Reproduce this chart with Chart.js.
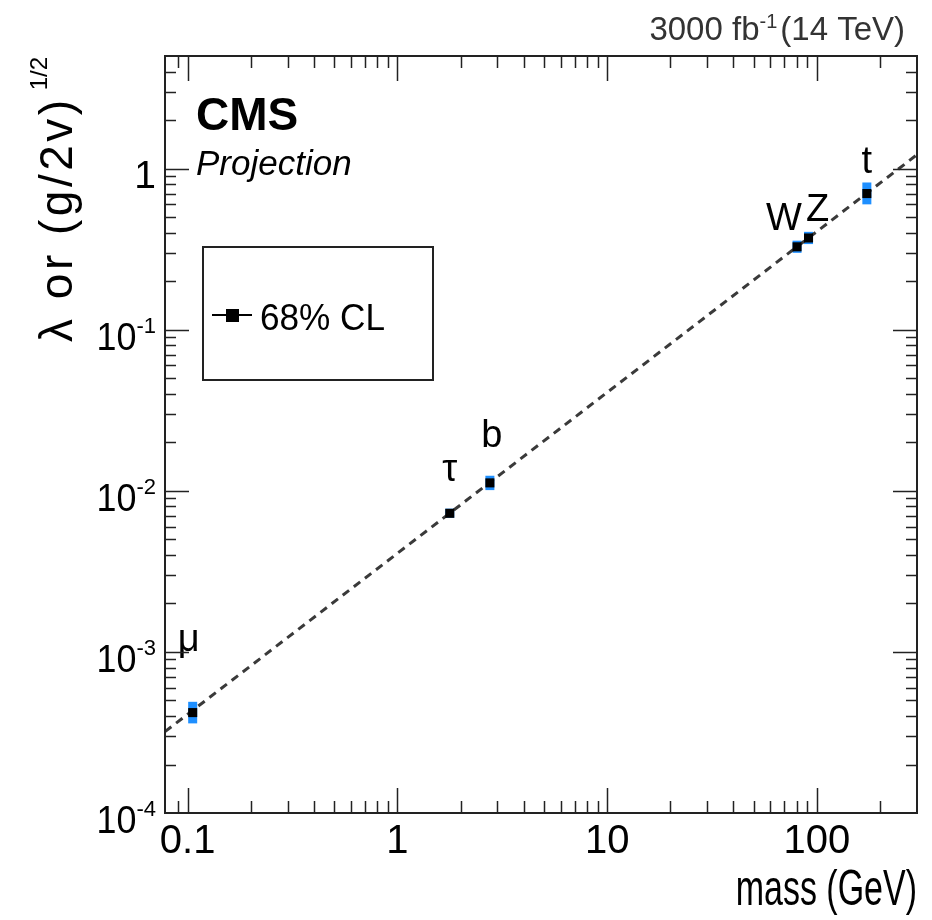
<!DOCTYPE html>
<html><head><meta charset="utf-8">
<script src="https://cdn.jsdelivr.net/npm/chart.js@4.4.1/dist/chart.umd.min.js"></script>
<style>html,body{margin:0;padding:0;background:#fff;} canvas{display:block;}</style>
</head><body>
<canvas id="c" width="932" height="920"></canvas>
<script>
// ---- data ----
const particles = ['μ', 'τ', 'b', 'W', 'Z', 't'];
const massGeV = [0.1057, 1.777, 2.76, 80.4, 91.2, 173.0];
const coupling = [4.2e-4, 7.25e-3, 0.0112, 0.327, 0.371, 0.70];
const errLow = [3.6e-4, 6.8e-3, 0.0101, 0.300, 0.340, 0.60];
const errHigh = [4.9e-4, 7.75e-3, 0.0124, 0.357, 0.405, 0.82];
const smLineMass = [0.078, 300];
const smLineCoupling = [3.2e-4, 1.22];
const xMajorTicks = [0.1, 1, 10, 100];
const xTickLabels = ['0.1', '1', '10', '100'];
const yMajorTicks = [1e-4, 1e-3, 1e-2, 1e-1, 1];
const yTickBase = ['10', '10', '10', '10', '1'];
const yTickExp = ['-4', '-3', '-2', '-1', ''];
const xMinorDecades = [0.01, 0.1, 1, 10, 100];
const yMinorDecades = [1e-4, 1e-3, 1e-2, 1e-1, 1];
const minorSteps = [2, 3, 4, 5, 6, 7, 8, 9];
const legendLabel = '68% CL';
const lumiText = ['3000 fb', '-1', '(14 TeV)'];
const xTitle = 'mass (GeV)';
const yTitle = ['λ or (g/2v)', '1/2'];

const FONT = '"Liberation Sans", Arial, sans-serif';
const INK = '#222';

function txt(ctx, s, x, y, font, align, sx) {
  ctx.save();
  ctx.font = font;
  ctx.textAlign = align || 'left';
  ctx.textBaseline = 'alphabetic';
  ctx.translate(x, y);
  ctx.scale(sx || 1, 1);
  ctx.fillText(s, 0, 0);
  ctx.restore();
}

const errorBars = {
  id: 'errorBars',
  beforeDatasetsDraw(chart) {
    const ctx = chart.ctx, xs = chart.scales.x, ys = chart.scales.y;
    ctx.save();
    ctx.fillStyle = '#1e8fff';
    for (let i = 0; i < massGeV.length; i++) {
      const px = xs.getPixelForValue(massGeV[i]);
      const yt = ys.getPixelForValue(errHigh[i]);
      const yb = ys.getPixelForValue(errLow[i]);
      ctx.fillRect(px - 4.5, yt, 9, yb - yt);
    }
    ctx.restore();
  },
  afterDatasetsDraw(chart) {
    const ctx = chart.ctx;
    const meta = chart.getDatasetMeta(0);
    const off = [[-4, -62], [0, -32], [2, -36], [-13, -17], [9, -17], [0, -21]];
    ctx.save();
    ctx.fillStyle = '#000';
    meta.data.forEach((pt, i) => {
      txt(ctx, particles[i], pt.x + off[i][0], pt.y + off[i][1], '38px ' + FONT, 'center');
    });
    ctx.restore();
  }
};

const frame = {
  id: 'frame',
  afterDraw(chart) {
    const ctx = chart.ctx, a = chart.chartArea, xs = chart.scales.x, ys = chart.scales.y;
    ctx.save();
    ctx.strokeStyle = INK;
    ctx.lineWidth = 2;
    ctx.strokeRect(a.left, a.top, a.right - a.left, a.bottom - a.top);
    ctx.lineWidth = 1.5;
    const xTick = (v, len) => {
      const p = Math.round(xs.getPixelForValue(v)) + 0.5;
      if (p < a.left + 3 || p > a.right - 3) return;
      ctx.beginPath();
      ctx.moveTo(p, a.bottom); ctx.lineTo(p, a.bottom - len);
      ctx.moveTo(p, a.top); ctx.lineTo(p, a.top + len);
      ctx.stroke();
    };
    const yTick = (v, len) => {
      const p = Math.round(ys.getPixelForValue(v)) + 0.5;
      if (p < a.top + 3 || p > a.bottom - 3) return;
      ctx.beginPath();
      ctx.moveTo(a.left, p); ctx.lineTo(a.left + len, p);
      ctx.moveTo(a.right, p); ctx.lineTo(a.right - len, p);
      ctx.stroke();
    };
    xMajorTicks.forEach(v => xTick(v, 25));
    xMinorDecades.forEach(d => minorSteps.forEach(m => xTick(d * m, 12)));
    yMajorTicks.forEach(v => yTick(v, 24));
    yMinorDecades.forEach(d => minorSteps.forEach(m => yTick(d * m, 11)));

    // tick labels
    ctx.fillStyle = '#000';
    xMajorTicks.forEach((v, i) => {
      txt(ctx, xTickLabels[i], xs.getPixelForValue(v), 853, '40px ' + FONT, 'center');
    });
    yMajorTicks.forEach((v, i) => {
      const p = ys.getPixelForValue(v);
      const right = 156;
      if (yTickExp[i]) {
        ctx.font = '22px ' + FONT;
        const we = ctx.measureText(yTickExp[i]).width;
        txt(ctx, yTickExp[i], right, p + 3, '22px ' + FONT, 'right');
        txt(ctx, yTickBase[i], right - we, p + 20, '39px ' + FONT, 'right', 0.92);
      } else {
        txt(ctx, yTickBase[i], right, p + 19, '39px ' + FONT, 'right');
      }
    });

    // axis titles
    txt(ctx, xTitle, 917, 905, '50px ' + FONT, 'right', 0.68);
    ctx.save();
    ctx.translate(72, 57);
    ctx.rotate(-Math.PI / 2);
    ctx.font = '24px ' + FONT;
    const ws = ctx.measureText(yTitle[1]).width;
    ctx.textAlign = 'right';
    ctx.fillText(yTitle[1], 0, -25);
    ctx.font = '46px ' + FONT;
    if ('letterSpacing' in ctx) ctx.letterSpacing = '3.5px';
    ctx.fillText(yTitle[0], -ws - 6, 0);
    ctx.restore();

    // CMS labels
    txt(ctx, 'CMS', 196, 130, 'bold 46px ' + FONT, 'left');
    txt(ctx, 'Projection', 196, 175, 'italic 35px ' + FONT, 'left');

    // lumi text
    ctx.fillStyle = '#333';
    ctx.font = '33px ' + FONT;
    const w0 = ctx.measureText(lumiText[0]).width;
    const w2 = ctx.measureText(lumiText[2]).width;
    ctx.font = '20px ' + FONT;
    const w1 = ctx.measureText(lumiText[1]).width;
    let lx = 905 - (w0 + w1 + w2 + 3);
    txt(ctx, lumiText[0], lx, 40, '33px ' + FONT, 'left');
    txt(ctx, lumiText[1], lx + w0, 28, '20px ' + FONT, 'left');
    txt(ctx, lumiText[2], lx + w0 + w1 + 3, 40, '33px ' + FONT, 'left');

    // legend
    ctx.strokeStyle = INK;
    ctx.lineWidth = 2;
    ctx.strokeRect(203, 247, 230, 133);
    ctx.strokeStyle = '#000';
    ctx.beginPath();
    ctx.moveTo(212, 315); ctx.lineTo(252, 315);
    ctx.stroke();
    ctx.fillStyle = '#000';
    ctx.fillRect(226, 309, 13, 13);
    txt(ctx, chart.data.datasets[0].label, 260, 330, '37px ' + FONT, 'left', 0.95);
    ctx.restore();
  }
};

new Chart(document.getElementById('c'), {
  type: 'scatter',
  data: {
    datasets: [
      {
        label: legendLabel,
        data: massGeV.map((m, i) => ({ x: m, y: coupling[i] })),
        pointStyle: 'rect',
        pointRadius: 6.4,
        backgroundColor: '#000',
        borderColor: '#000',
        borderWidth: 0
      },
      {
        type: 'line',
        label: 'SM',
        data: smLineMass.map((m, i) => ({ x: m, y: smLineCoupling[i] })),
        borderColor: '#3a3a3a',
        borderWidth: 3,
        borderDash: [8, 6],
        pointRadius: 0,
        fill: false
      }
    ]
  },
  options: {
    responsive: false,
    animation: false,
    layout: { padding: { left: 165, top: 56, right: 15, bottom: 107 } },
    plugins: { legend: { display: false }, tooltip: { enabled: false } },
    scales: {
      x: { type: 'logarithmic', min: 0.078, max: 300, display: false },
      y: { type: 'logarithmic', min: 1e-4, max: 5, display: false }
    }
  },
  plugins: [errorBars, frame]
});
</script>
</body></html>
